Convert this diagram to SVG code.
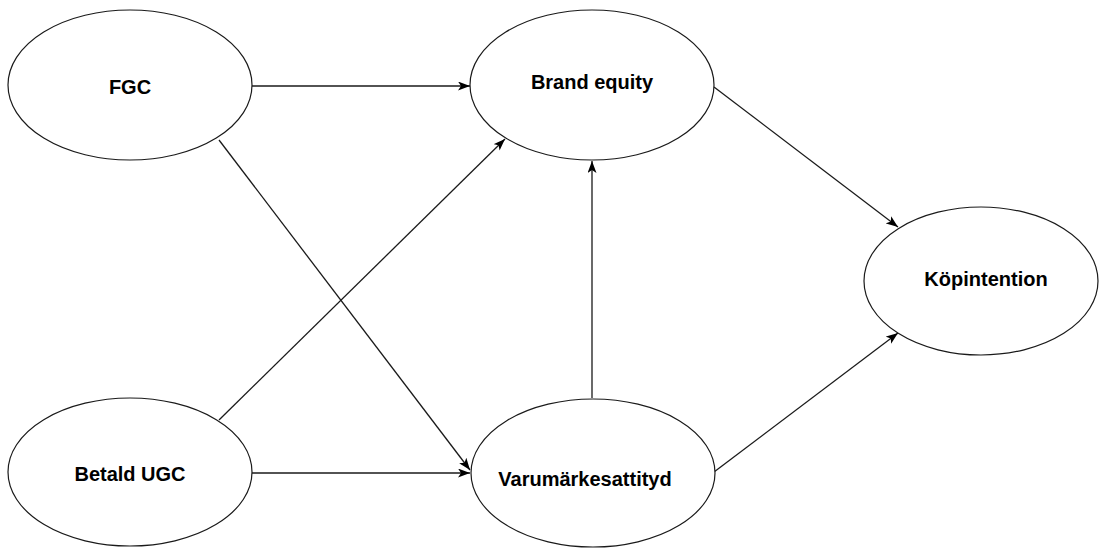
<svg xmlns="http://www.w3.org/2000/svg" width="1099" height="548" viewBox="0 0 1099 548">
<style>
.node{fill:#ffffff;stroke:#1a1a1a;stroke-width:1.2}
.lbl{font-family:"Liberation Sans",Arial,Helvetica,sans-serif;font-size:20px;font-weight:bold;fill:#000000;text-anchor:middle}
.edge{fill:none;stroke:#1a1a1a;stroke-width:1.3;marker-end:url(#arrow)}
</style>
<defs>
<marker id="arrow" markerUnits="userSpaceOnUse" markerWidth="14" markerHeight="10" refX="12" refY="4.5" orient="auto">
<path d="M0,0 L12,4.5 L0,9 L3,4.5 Z" fill="#000000"/>
</marker>
</defs>
<rect width="1099" height="548" fill="#ffffff"/>
<g id="connectors">
<line class="edge" x1="252" y1="86" x2="470" y2="86"/>
<line class="edge" x1="219" y1="140" x2="470" y2="470"/>
<line class="edge" x1="219" y1="420" x2="505" y2="139"/>
<line class="edge" x1="252" y1="473" x2="470" y2="473"/>
<line class="edge" x1="592" y1="398" x2="592" y2="161"/>
<line class="edge" x1="714" y1="87" x2="898" y2="227"/>
<line class="edge" x1="714" y1="472" x2="898" y2="333"/>
</g>
<g id="node-fgc">
<ellipse class="node" cx="130" cy="85" rx="122" ry="75"/>
<text class="lbl" x="130" y="94">FGC</text>
</g>
<g id="node-brand-equity">
<ellipse class="node" cx="592" cy="85" rx="122" ry="75"/>
<text class="lbl" x="592" y="89">Brand equity</text>
</g>
<g id="node-kopintention">
<ellipse class="node" cx="981" cy="281" rx="117" ry="74"/>
<text class="lbl" x="986" y="286">Köpintention</text>
</g>
<g id="node-betald-ugc">
<ellipse class="node" cx="130" cy="472" rx="122" ry="74"/>
<text class="lbl" x="130" y="481">Betald UGC</text>
</g>
<g id="node-varumarkesattityd">
<ellipse class="node" cx="593" cy="473" rx="122" ry="74"/>
<text class="lbl" x="585" y="486">Varumärkesattityd</text>
</g>
</svg>
